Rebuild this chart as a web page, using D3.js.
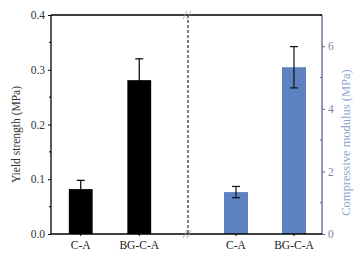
<!DOCTYPE html>
<html>
<head>
<meta charset="utf-8">
<script src="https://cdn.jsdelivr.net/npm/d3@7"></script>
<style>
  body { margin: 0; background: #fff; }
  svg text { font-family: "Liberation Serif", "Times New Roman", serif; font-weight: normal; }
</style>
</head>
<body>
<div id="chart"></div>
<script>
// data
const categories = ["C-A", "BG-C-A"];
const yieldValues = [0.082, 0.281];
const yieldErrors = [0.016, 0.039];
const modulusValues = [1.34, 5.33];
const modulusErrors = [0.18, 0.66];
const leftTicks = [0, 0.1, 0.2, 0.3, 0.4];
const rightTicks = [0, 2, 4, 6];

const width = 361, height = 260;
const margin = { top: 15, right: 39, bottom: 26, left: 51 };
const plotRight = width - margin.right;
const plotBottom = height - margin.bottom;
const breakX = 188;

const svg = d3.select("#chart").append("svg")
    .attr("width", width)
    .attr("height", height);

const yLeft = d3.scaleLinear().domain([0, 0.4]).range([plotBottom, margin.top]);
const yRight = d3.scaleLinear().domain([0, 7]).range([plotBottom, margin.top]);

const xLeft = d3.scaleBand().domain(categories)
    .range([margin.left, 169])
    .paddingInner(0.593).paddingOuter(0.305);
const xRight = d3.scaleBand().domain(categories)
    .range([208, plotRight])
    .paddingInner(0.586).paddingOuter(0.276);

// bars
svg.append("g").selectAll("rect")
    .data(categories)
    .join("rect")
    .attr("x", d => xLeft(d))
    .attr("y", (d, i) => yLeft(yieldValues[i]))
    .attr("width", xLeft.bandwidth())
    .attr("height", (d, i) => plotBottom - yLeft(yieldValues[i]))
    .attr("fill", "#000");

svg.append("g").selectAll("rect")
    .data(categories)
    .join("rect")
    .attr("x", d => xRight(d))
    .attr("y", (d, i) => yRight(modulusValues[i]))
    .attr("width", xRight.bandwidth())
    .attr("height", (d, i) => plotBottom - yRight(modulusValues[i]))
    .attr("fill", "#5e81c2");

// error bars
function errorBars(xs, ys, vals, errs, color) {
    const g = svg.append("g").attr("stroke", color).attr("stroke-width", 1.2);
    categories.forEach((c, i) => {
        const cx = xs(c) + xs.bandwidth() / 2;
        const top = ys(vals[i] + errs[i]);
        const bot = ys(vals[i] - errs[i]);
        g.append("line").attr("x1", cx).attr("x2", cx).attr("y1", top).attr("y2", bot);
        g.append("line").attr("x1", cx - 4).attr("x2", cx + 4).attr("y1", top).attr("y2", top);
        g.append("line").attr("x1", cx - 4).attr("x2", cx + 4).attr("y1", bot).attr("y2", bot);
    });
}
errorBars(xLeft, yLeft, yieldValues, yieldErrors, "#000");
errorBars(xRight, yRight, modulusValues, modulusErrors, "#111");

// left axis
const leftAxis = svg.append("g")
    .attr("transform", `translate(${margin.left},0)`)
    .call(d3.axisLeft(yLeft).tickValues(leftTicks).tickFormat(d3.format(".1f")).tickSize(3).tickPadding(3));
leftAxis.selectAll(".domain").remove();
leftAxis.selectAll("text").style("font-size", "11.5px").attr("fill", "#333");
svg.append("g").selectAll("line")
    .data(d3.range(0.05, 0.4, 0.1))
    .join("line")
    .attr("x1", margin.left - 2).attr("x2", margin.left)
    .attr("y1", d => yLeft(d)).attr("y2", d => yLeft(d))
    .attr("stroke", "#000");
svg.append("line")
    .attr("x1", margin.left).attr("x2", margin.left)
    .attr("y1", margin.top).attr("y2", plotBottom)
    .attr("stroke", "#000").attr("stroke-width", 1.3);

// right axis
const axisPurple = "#6a5a8c";
const rightAxis = svg.append("g")
    .attr("transform", `translate(${plotRight},0)`)
    .call(d3.axisRight(yRight).tickValues(rightTicks).tickFormat(d3.format("d")).tickSize(3).tickPadding(3));
rightAxis.selectAll(".domain").remove();
rightAxis.selectAll("line").attr("stroke", axisPurple);
rightAxis.selectAll("text").style("font-size", "11.5px").attr("fill", "#8a7ca6");
svg.append("g").selectAll("line")
    .data([1, 3, 5, 7])
    .join("line")
    .attr("x1", plotRight - 2).attr("x2", plotRight)
    .attr("y1", d => yRight(d)).attr("y2", d => yRight(d))
    .attr("stroke", axisPurple);
svg.append("line")
    .attr("x1", plotRight).attr("x2", plotRight)
    .attr("y1", margin.top).attr("y2", plotBottom)
    .attr("stroke", axisPurple).attr("stroke-width", 1.3);

// top and bottom frame lines
[margin.top, plotBottom].forEach(y => {
    svg.append("line")
        .attr("x1", margin.left).attr("x2", plotRight)
        .attr("y1", y).attr("y2", y)
        .attr("stroke", "#000").attr("stroke-width", 1.3);
});

// x category ticks and labels
[xLeft, xRight].forEach(xs => {
    const g = svg.append("g")
        .attr("transform", `translate(0,${plotBottom})`)
        .call(d3.axisBottom(xs).tickSize(2).tickPadding(5));
    g.selectAll(".domain").remove();
    g.selectAll("text").style("font-size", "11.5px").attr("fill", "#222");
});

// axis break
svg.append("line")
    .attr("x1", breakX).attr("x2", breakX)
    .attr("y1", margin.top).attr("y2", plotBottom)
    .attr("stroke", "#000").attr("stroke-dasharray", "3,2");
[margin.top, plotBottom].forEach(y => {
    [-2, 2].forEach(dx => {
        svg.append("line")
            .attr("x1", breakX + dx - 3).attr("x2", breakX + dx + 1)
            .attr("y1", y + 4).attr("y2", y - 4)
            .attr("stroke", "#999").attr("stroke-width", 0.8);
    });
});

// axis titles
svg.append("text")
    .attr("transform", `translate(20,${(margin.top + plotBottom) / 2 + 10}) rotate(-90)`)
    .attr("text-anchor", "middle")
    .style("font-size", "11.5px")
    .attr("fill", "#333")
    .text("Yield strength (MPa)");

svg.append("text")
    .attr("transform", `translate(350,${(margin.top + plotBottom) / 2 + 18}) rotate(-90)`)
    .attr("text-anchor", "middle")
    .style("font-size", "12.5px")
    .attr("fill", "#8ba5d4")
    .text("Compressive modulus (MPa)");
</script>
</body>
</html>
